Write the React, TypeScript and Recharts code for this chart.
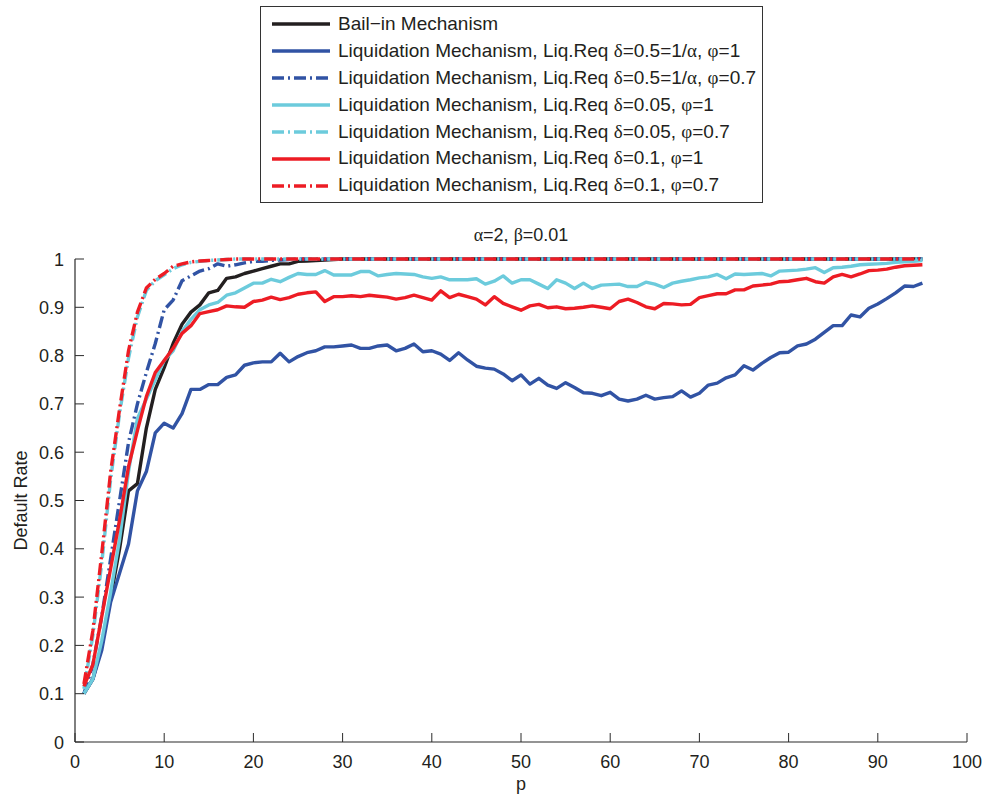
import React from 'react';
import { LineChart, Line, XAxis, YAxis, Legend } from 'recharts';

const pValues = [
  1, 2, 3, 4, 5, 6, 7, 8, 9, 10,
  11, 12, 13, 14, 15, 16, 17, 18, 19, 20,
  21, 22, 23, 24, 25, 26, 27, 28, 29, 30,
  31, 32, 33, 34, 35, 36, 37, 38, 39, 40,
  41, 42, 43, 44, 45, 46, 47, 48, 49, 50,
  51, 52, 53, 54, 55, 56, 57, 58, 59, 60,
  61, 62, 63, 64, 65, 66, 67, 68, 69, 70,
  71, 72, 73, 74, 75, 76, 77, 78, 79, 80,
  81, 82, 83, 84, 85, 86, 87, 88, 89, 90,
  91, 92, 93, 94, 95,
];

const bailIn = [
  0.1, 0.13, 0.2, 0.3, 0.4, 0.52, 0.535, 0.65, 0.73, 0.775,
  0.825, 0.865, 0.89, 0.905, 0.93, 0.935, 0.96, 0.963, 0.97, 0.975,
  0.98, 0.985, 0.99, 0.99, 0.995, 0.996, 0.997, 0.998, 0.999, 1,
  1, 1, 1, 1, 1, 1, 1, 1, 1, 1,
  1, 1, 1, 1, 1, 1, 1, 1, 1, 1,
  1, 1, 1, 1, 1, 1, 1, 1, 1, 1,
  1, 1, 1, 1, 1, 1, 1, 1, 1, 1,
  1, 1, 1, 1, 1, 1, 1, 1, 1, 1,
  1, 1, 1, 1, 1, 1, 1, 1, 1, 1,
  1, 1, 1, 1, 1,
];

const liqHalfPhi1 = [
  0.1, 0.13, 0.19, 0.29, 0.35, 0.41, 0.52, 0.56, 0.64, 0.66,
  0.65, 0.68, 0.73, 0.73, 0.74, 0.74, 0.755, 0.76, 0.78, 0.785,
  0.787, 0.787, 0.805, 0.787, 0.798, 0.806, 0.81, 0.818, 0.818, 0.82,
  0.822, 0.815, 0.815, 0.82, 0.822, 0.81, 0.815, 0.824, 0.808, 0.81,
  0.803, 0.79, 0.806, 0.791, 0.778, 0.774, 0.772, 0.762, 0.748, 0.76,
  0.741, 0.753, 0.739, 0.732, 0.744, 0.734, 0.723, 0.722, 0.717, 0.724,
  0.71, 0.706, 0.71, 0.718, 0.71, 0.713, 0.715, 0.727, 0.714, 0.722,
  0.739, 0.743, 0.754, 0.76, 0.779, 0.77, 0.784, 0.796, 0.806, 0.807,
  0.82, 0.824, 0.834, 0.848, 0.862, 0.862, 0.884, 0.88, 0.898, 0.907,
  0.918, 0.93, 0.944, 0.943, 0.95,
];

const liqHalfPhi07 = [
  0.1, 0.16, 0.26, 0.38, 0.5, 0.62, 0.7, 0.765, 0.825, 0.895,
  0.915, 0.955, 0.965, 0.975, 0.98, 0.99, 0.985, 0.988, 0.992, 0.995,
  0.995, 0.997, 0.998, 0.999, 1, 1, 1, 1, 1, 1,
  1, 1, 1, 1, 1, 1, 1, 1, 1, 1,
  1, 1, 1, 1, 1, 1, 1, 1, 1, 1,
  1, 1, 1, 1, 1, 1, 1, 1, 1, 1,
  1, 1, 1, 1, 1, 1, 1, 1, 1, 1,
  1, 1, 1, 1, 1, 1, 1, 1, 1, 1,
  1, 1, 1, 1, 1, 1, 1, 1, 1, 1,
  1, 1, 1, 1, 1,
];

const liq005Phi1 = [
  0.1, 0.13, 0.21, 0.31, 0.42, 0.56, 0.67, 0.71, 0.75, 0.79,
  0.81, 0.85, 0.875, 0.895, 0.905, 0.91, 0.925, 0.93, 0.94, 0.95,
  0.95, 0.958, 0.953, 0.962, 0.97, 0.968, 0.968, 0.976, 0.967, 0.967,
  0.967, 0.974, 0.974, 0.965, 0.968, 0.97, 0.969, 0.968, 0.963, 0.96,
  0.963, 0.957, 0.957, 0.957, 0.959, 0.948, 0.954, 0.965, 0.95, 0.957,
  0.957, 0.948, 0.939, 0.957, 0.95, 0.939, 0.95, 0.939, 0.946, 0.947,
  0.948, 0.943, 0.943, 0.952, 0.948, 0.941, 0.95, 0.954, 0.957, 0.961,
  0.963, 0.968, 0.959, 0.969, 0.968, 0.969, 0.97, 0.965, 0.975, 0.976,
  0.977, 0.979, 0.982, 0.972, 0.982, 0.983, 0.985, 0.988, 0.989, 0.99,
  0.991, 0.993, 0.994, 0.995, 0.997,
];

const liq005Phi07 = [
  0.11, 0.22, 0.37, 0.545, 0.68, 0.795, 0.88, 0.935, 0.955, 0.967,
  0.98, 0.988, 0.993, 0.995, 0.997, 0.998, 0.999, 1, 1, 1,
  1, 1, 1, 1, 1, 1, 1, 1, 1, 1,
  1, 1, 1, 1, 1, 1, 1, 1, 1, 1,
  1, 1, 1, 1, 1, 1, 1, 1, 1, 1,
  1, 1, 1, 1, 1, 1, 1, 1, 1, 1,
  1, 1, 1, 1, 1, 1, 1, 1, 1, 1,
  1, 1, 1, 1, 1, 1, 1, 1, 1, 1,
  1, 1, 1, 1, 1, 1, 1, 1, 1, 1,
  1, 1, 1, 1, 1,
];

const liq01Phi1 = [
  0.115, 0.16, 0.26, 0.36, 0.46, 0.57, 0.645, 0.715, 0.765, 0.79,
  0.815, 0.846, 0.862, 0.887, 0.891, 0.895, 0.903, 0.901, 0.9, 0.912,
  0.915, 0.921, 0.916, 0.92, 0.927, 0.93, 0.932, 0.912, 0.922, 0.922,
  0.924, 0.922, 0.925, 0.923, 0.921, 0.917, 0.92, 0.925, 0.92, 0.915,
  0.934, 0.92, 0.927, 0.922, 0.917, 0.905, 0.922, 0.908, 0.901, 0.894,
  0.903, 0.906, 0.899, 0.901, 0.897, 0.898, 0.9, 0.903, 0.9, 0.897,
  0.912, 0.917, 0.91, 0.901, 0.897, 0.908, 0.907, 0.905, 0.906, 0.92,
  0.924, 0.928, 0.928, 0.936, 0.936, 0.944, 0.946, 0.948, 0.953, 0.954,
  0.957, 0.96, 0.953, 0.95, 0.963, 0.968, 0.963, 0.969, 0.976, 0.977,
  0.979, 0.983, 0.986, 0.987, 0.988,
];

const liq01Phi07 = [
  0.12, 0.23, 0.39, 0.56, 0.69, 0.81, 0.89, 0.94, 0.958, 0.97,
  0.985, 0.99, 0.994, 0.996, 0.997, 0.998, 0.999, 1, 1, 1,
  1, 1, 1, 1, 1, 1, 1, 1, 1, 1,
  1, 1, 1, 1, 1, 1, 1, 1, 1, 1,
  1, 1, 1, 1, 1, 1, 1, 1, 1, 1,
  1, 1, 1, 1, 1, 1, 1, 1, 1, 1,
  1, 1, 1, 1, 1, 1, 1, 1, 1, 1,
  1, 1, 1, 1, 1, 1, 1, 1, 1, 1,
  1, 1, 1, 1, 1, 1, 1, 1, 1, 1,
  1, 1, 1, 1, 1,
];

const xTicks = [0, 10, 20, 30, 40, 50, 60, 70, 80, 90, 100];
const yTicks = [0, 0.1, 0.2, 0.3, 0.4, 0.5, 0.6, 0.7, 0.8, 0.9, 1];
const yTickLabels = ['0', '0.1', '0.2', '0.3', '0.4', '0.5', '0.6', '0.7', '0.8', '0.9', '1'];

const FONT = '"Liberation Sans", Arial, Helvetica, sans-serif';
const GREEK = '"Liberation Serif", "DejaVu Serif", serif';
const AXIS = '#2b2b2b';
const TEXT = '#231f20';
const DASHDOT = '12 4 2 4';

const series = [
  { key: 'bailIn', name: 'Bail\u2212in Mechanism', color: '#231f20', dash: undefined },
  { key: 'liqHalfPhi1', name: 'Liquidation Mechanism, Liq.Req δ=0.5=1/α, φ=1', color: '#3153a4', dash: undefined },
  { key: 'liqHalfPhi07', name: 'Liquidation Mechanism, Liq.Req δ=0.5=1/α, φ=0.7', color: '#3153a4', dash: DASHDOT },
  { key: 'liq005Phi1', name: 'Liquidation Mechanism, Liq.Req δ=0.05, φ=1', color: '#6ccbdc', dash: undefined },
  { key: 'liq005Phi07', name: 'Liquidation Mechanism, Liq.Req δ=0.05, φ=0.7', color: '#6ccbdc', dash: DASHDOT },
  { key: 'liq01Phi1', name: 'Liquidation Mechanism, Liq.Req δ=0.1, φ=1', color: '#ed1c24', dash: undefined },
  { key: 'liq01Phi07', name: 'Liquidation Mechanism, Liq.Req δ=0.1, φ=0.7', color: '#ed1c24', dash: DASHDOT },
];

const data = pValues.map((p, i) => ({
  p,
  bailIn: bailIn[i],
  liqHalfPhi1: liqHalfPhi1[i],
  liqHalfPhi07: liqHalfPhi07[i],
  liq005Phi1: liq005Phi1[i],
  liq005Phi07: liq005Phi07[i],
  liq01Phi1: liq01Phi1[i],
  liq01Phi07: liq01Phi07[i],
}));

// greek letters look like the Symbol font in the original
const withGreek = (s: string) =>
  s.split(/([αβδφ])/).map((part, i) =>
    /[αβδφ]/.test(part) ? (
      <span key={i} style={{ fontFamily: GREEK }}>{part}</span>
    ) : (
      <React.Fragment key={i}>{part}</React.Fragment>
    )
  );

const XTick = (props: any) => {
  const { x, y, payload } = props;
  return (
    <g>
      <line x1={x} y1={y} x2={x} y2={y - 9} stroke={AXIS} strokeWidth={1} />
      <text x={x} y={y + 26} textAnchor="middle" fontSize={18} fontFamily={FONT} fill={TEXT}>
        {payload.value}
      </text>
    </g>
  );
};

const YTick = (props: any) => {
  const { x, y, payload, index } = props;
  return (
    <g>
      <line x1={x} y1={y} x2={x + 9} y2={y} stroke={AXIS} strokeWidth={1} />
      <text x={x - 11} y={y + 6.5} textAnchor="end" fontSize={18} fontFamily={FONT} fill={TEXT}>
        {yTickLabels[index] ?? payload.value}
      </text>
    </g>
  );
};

const LegendBox = () => (
  <div
    style={{
      border: '1.5px solid #333',
      background: '#fff',
      padding: '4px 6px 3px 10px',
      fontFamily: FONT,
      fontSize: 19,
      color: TEXT,
      lineHeight: '26.9px',
      whiteSpace: 'nowrap',
    }}
  >
    {series.map((s) => (
      <div key={s.key} style={{ display: 'flex', alignItems: 'center', height: 26.9 }}>
        <svg width={60} height={10} style={{ marginRight: 7 }}>
          <line x1={1} y1={5} x2={59} y2={5} stroke={s.color} strokeWidth={3.4} strokeDasharray={s.dash} />
        </svg>
        <span>{withGreek(s.name)}</span>
      </div>
    ))}
  </div>
);

export default function App() {
  return (
    <div style={{ position: 'absolute', left: 0, top: 0, width: 987, height: 798, background: '#fff' }}>
      <LineChart width={987} height={798} data={data} margin={{ top: 259, right: 20, left: 0, bottom: 0 }}>
        <XAxis
          type="number"
          dataKey="p"
          domain={[0, 100]}
          ticks={xTicks}
          interval={0}
          height={56}
          tickSize={0}
          tickMargin={0}
          tickLine={false}
          axisLine={{ stroke: AXIS, strokeWidth: 1.2 }}
          tick={<XTick />}
          label={{
            content: (props: any) => {
              const vb = props.viewBox || {};
              return (
                <text x={vb.x + vb.width / 2} y={790} textAnchor="middle" fontSize={18} fontFamily={FONT} fill={TEXT}>
                  p
                </text>
              );
            },
          }}
        />
        <YAxis
          type="number"
          domain={[0, 1]}
          ticks={yTicks}
          interval={0}
          width={75}
          tickSize={0}
          tickMargin={0}
          tickLine={false}
          axisLine={{ stroke: AXIS, strokeWidth: 1.2 }}
          tick={<YTick />}
          label={{
            content: (props: any) => {
              const vb = props.viewBox || {};
              const cx = 27;
              const cy = vb.y + vb.height / 2;
              return (
                <text
                  x={cx}
                  y={cy}
                  transform={`rotate(-90 ${cx} ${cy})`}
                  textAnchor="middle"
                  fontSize={18}
                  fontFamily={FONT}
                  fill={TEXT}
                >
                  Default Rate
                </text>
              );
            },
          }}
        />
        <Legend
          layout="vertical"
          align="center"
          verticalAlign="middle"
          content={<LegendBox />}
          wrapperStyle={{ top: 6, left: 260, width: 'auto', height: 'auto' }}
        />
        {series.map((s) => (
          <Line
            key={s.key}
            type="linear"
            dataKey={s.key}
            name={s.name}
            stroke={s.color}
            strokeWidth={3.4}
            strokeDasharray={s.dash}
            strokeLinejoin="round"
            dot={false}
            activeDot={false}
            isAnimationActive={false}
          />
        ))}
      </LineChart>
      <div
        style={{
          position: 'absolute',
          left: 75,
          width: 892,
          top: 225,
          textAlign: 'center',
          fontFamily: FONT,
          fontSize: 18,
          color: TEXT,
        }}
      >
        {withGreek('α=2, β=0.01')}
      </div>
    </div>
  );
}
